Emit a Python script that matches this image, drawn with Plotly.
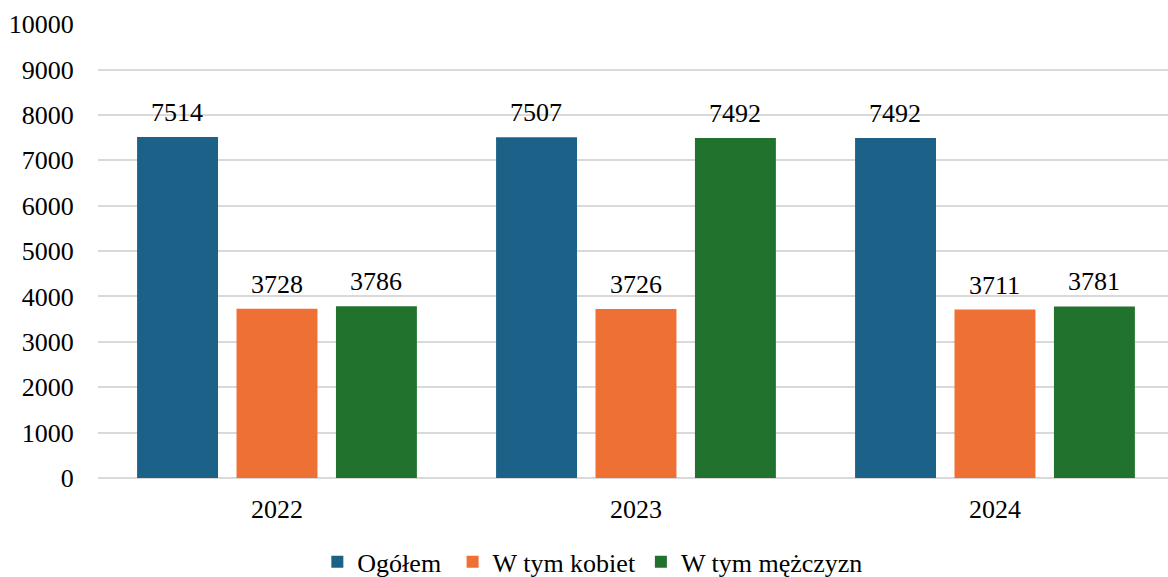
import plotly.graph_objects as go

years = ["2022", "2023", "2024"]
ogolem = [7514, 7507, 7492]
kobiet = [3728, 3726, 3711]
mezczyzn = [3786, 7492, 3781]
series_names = ["Ogółem", "W tym kobiet", "W tym mężczyzn"]
y_ticks = [0, 1000, 2000, 3000, 4000, 5000, 6000, 7000, 8000, 9000, 10000]

colors = ["#1c6288", "#ee7034", "#20722c"]
font_family = "Liberation Serif"
fs = 26
legend_pad = ["\u00a0", "", ""]

fig = go.Figure()
all_series = [ogolem, kobiet, mezczyzn]
for name, pad, vals, col in zip(series_names, legend_pad, all_series, colors):
    fig.add_trace(go.Bar(
        x=years, y=vals, name=name + pad,
        marker=dict(color=col, line=dict(width=0)),
    ))

annotations = []
for i, vals in enumerate(all_series):
    for j, v in enumerate(vals):
        annotations.append(dict(
            x=j, y=v, xref="x", yref="y", text=str(v), showarrow=False,
            xshift=(i - 1) * 99.5, yshift=8, yanchor="bottom",
            font=dict(size=fs, color="#000000", family=font_family),
        ))

fig.update_layout(
    width=1168, height=577,
    margin=dict(l=98, r=0, t=24, b=99, autoexpand=False),
    paper_bgcolor="white", plot_bgcolor="white",
    barmode="group", bargap=0.169, bargroupgap=0.186,
    font=dict(family=font_family, size=fs, color="#000000"),
    showlegend=True,
    annotations=annotations,
    legend=dict(orientation="h", x=0.462, xanchor="center", y=-0.133, yanchor="top",
                font=dict(size=fs, family=font_family), itemsizing="constant",
                traceorder="normal", itemwidth=30),
    xaxis=dict(type="category", range=[-0.4986, 2.482], showgrid=False, showline=False,
               ticks="outside", ticklen=8,
               tickcolor="rgba(0,0,0,0)", tickfont=dict(size=fs, family=font_family),
               automargin=False),
    yaxis=dict(range=[0, 10005], tickvals=y_ticks, ticktext=[str(t) for t in y_ticks],
               showgrid=True, gridcolor="#d9d9d9",
               gridwidth=1.8, zeroline=True, zerolinecolor="#d9d9d9", zerolinewidth=1.8,
               ticks="outside", ticklen=18, tickcolor="rgba(0,0,0,0)",
               tickfont=dict(size=fs, family=font_family), automargin=False),
)

fig.write_html("out.html", post_script="document.body.style.margin='0';",
               config={"displayModeBar": False})
